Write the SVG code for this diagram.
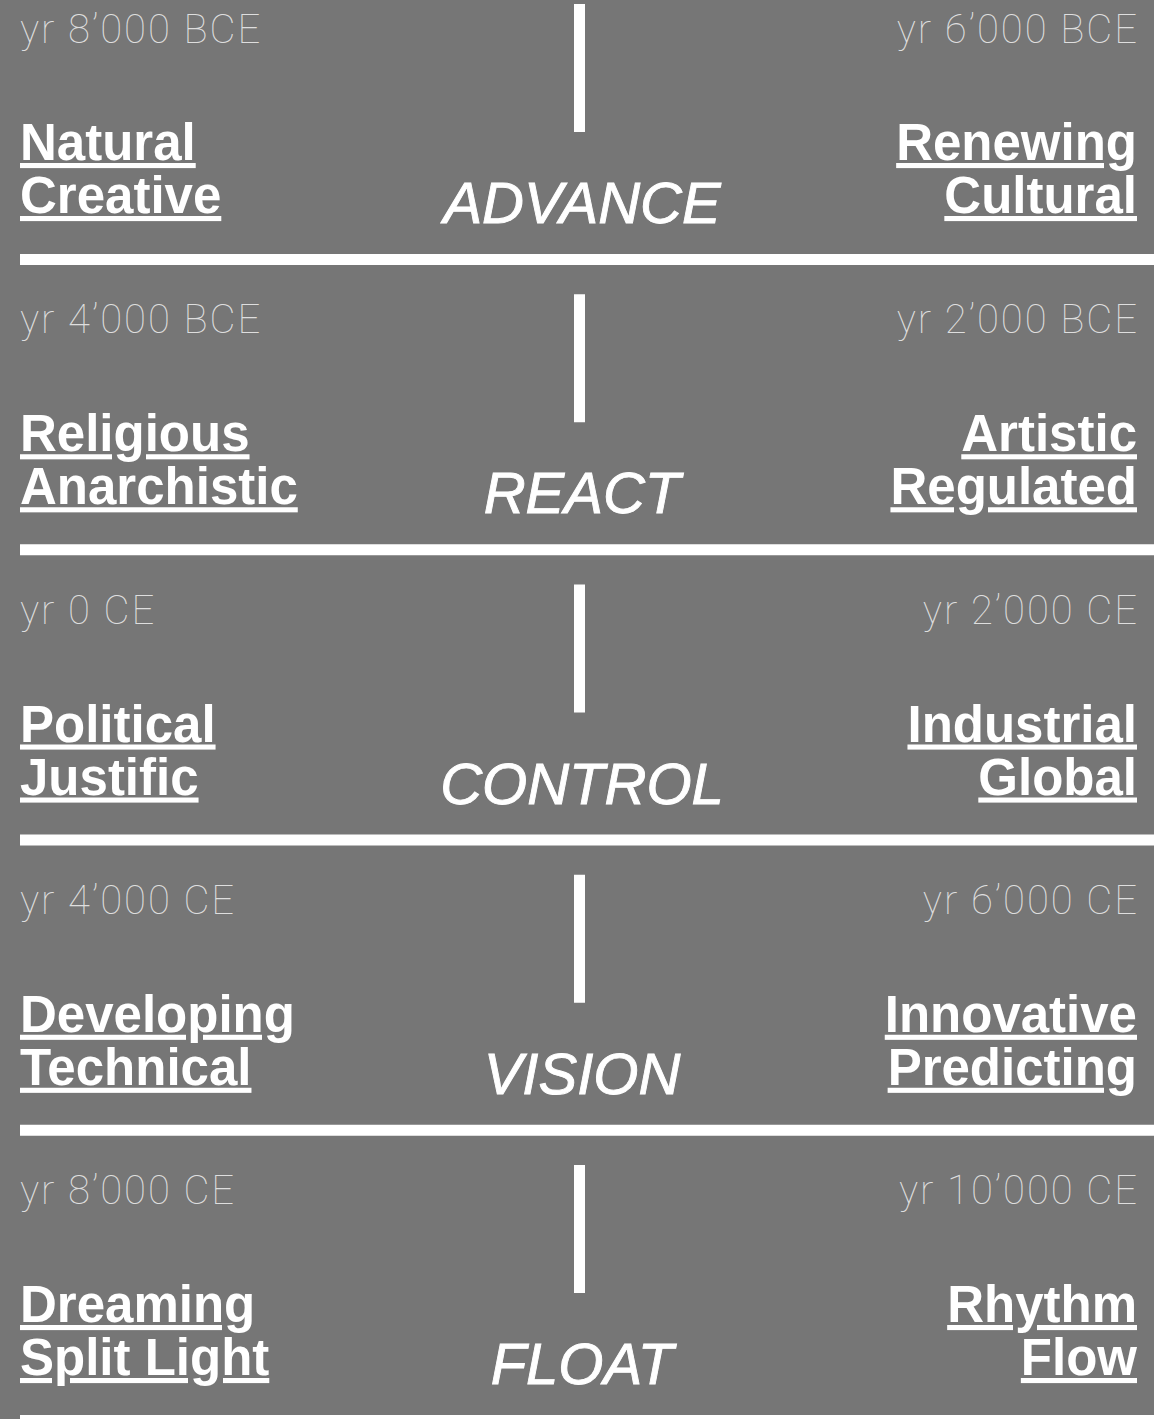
<svg xmlns="http://www.w3.org/2000/svg" width="1154" height="1419" viewBox="0 0 1154 1419">
<style>
.bg{fill:#767676}
.bar{fill:#ffffff}
.yr{font-family:Roboto,"Liberation Sans",sans-serif;font-weight:100;font-size:40px;letter-spacing:2px;fill:#dedede}
.lbl{font-family:"Liberation Sans",Arial,sans-serif;font-weight:bold;font-size:51px;fill:#ffffff;text-decoration:underline;text-decoration-thickness:2.5px;text-underline-offset:3px}
.ctr{font-family:"Liberation Sans",Arial,sans-serif;font-style:italic;font-size:58px;fill:#ffffff;stroke:#ffffff;stroke-width:0.9;text-anchor:middle}
.r{text-anchor:end}
.yr.r{letter-spacing:2px}
</style>
<rect class="bg" x="0" y="0" width="1154" height="1419"/>
<g id="row1">
<rect class="bar" x="574" y="4" width="11" height="128"/>
<text class="yr" x="20" y="43">yr 8’000 BCE</text>
<text class="yr r" x="1139" y="43">yr 6’000 BCE</text>
<text class="lbl" x="20" y="160">Natural</text>
<text class="lbl" x="20" y="213">Creative</text>
<text class="lbl r" x="1137" y="160">Renewing</text>
<text class="lbl r" x="1137" y="213">Cultural</text>
<text class="ctr" x="582" y="223">ADVANCE</text>
<rect class="bar" x="20" y="254" width="1134" height="11"/>
</g>
<g id="row2" transform="translate(0,290.25)">
<rect class="bar" x="574" y="4" width="11" height="128"/>
<text class="yr" x="20" y="43">yr 4’000 BCE</text>
<text class="yr r" x="1139" y="43">yr 2’000 BCE</text>
<text class="lbl" x="20" y="161">Religious</text>
<text class="lbl" x="20" y="214">Anarchistic</text>
<text class="lbl r" x="1137" y="161">Artistic</text>
<text class="lbl r" x="1137" y="214">Regulated</text>
<text class="ctr" x="582" y="223">REACT</text>
<rect class="bar" x="20" y="254" width="1134" height="11"/>
</g>
<g id="row3" transform="translate(0,580.5)">
<rect class="bar" x="574" y="4" width="11" height="128"/>
<text class="yr" x="20" y="43">yr 0 CE</text>
<text class="yr r" x="1139" y="43">yr 2’000 CE</text>
<text class="lbl" x="20" y="161">Political</text>
<text class="lbl" x="20" y="214">Justific</text>
<text class="lbl r" x="1137" y="161">Industrial</text>
<text class="lbl r" x="1137" y="214">Global</text>
<text class="ctr" x="582" y="223">CONTROL</text>
<rect class="bar" x="20" y="254" width="1134" height="11"/>
</g>
<g id="row4" transform="translate(0,870.75)">
<rect class="bar" x="574" y="4" width="11" height="128"/>
<text class="yr" x="20" y="43">yr 4’000 CE</text>
<text class="yr r" x="1139" y="43">yr 6’000 CE</text>
<text class="lbl" x="20" y="161">Developing</text>
<text class="lbl" x="20" y="214">Technical</text>
<text class="lbl r" x="1137" y="161">Innovative</text>
<text class="lbl r" x="1137" y="214">Predicting</text>
<text class="ctr" x="582" y="223">VISION</text>
<rect class="bar" x="20" y="254" width="1134" height="11"/>
</g>
<g id="row5" transform="translate(0,1161)">
<rect class="bar" x="574" y="4" width="11" height="128"/>
<text class="yr" x="20" y="43">yr 8’000 CE</text>
<text class="yr r" x="1139" y="43">yr 10’000 CE</text>
<text class="lbl" x="20" y="161">Dreaming</text>
<text class="lbl" x="20" y="214">Split Light</text>
<text class="lbl r" x="1137" y="161">Rhythm</text>
<text class="lbl r" x="1137" y="214">Flow</text>
<text class="ctr" x="582" y="223">FLOAT</text>
<rect class="bar" x="20" y="254" width="1134" height="11"/>
</g>
</svg>
